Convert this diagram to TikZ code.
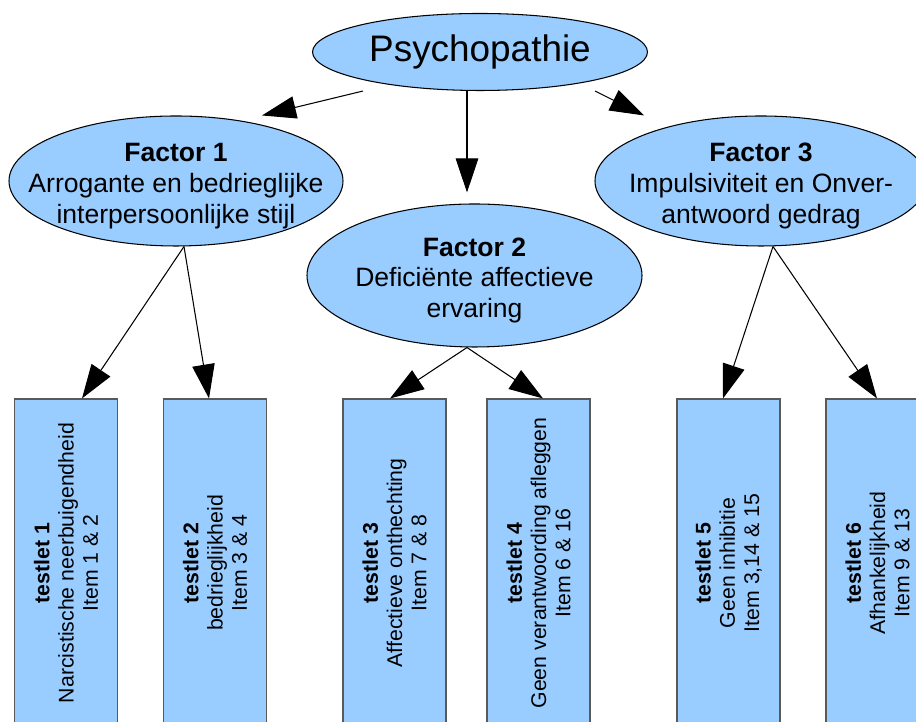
\documentclass[tikz,border=0pt]{standalone}
\usepackage{fontspec}
\setmainfont{Liberation Sans}
\usetikzlibrary{arrows.meta,shapes.geometric}
\definecolor{factorblue}{HTML}{99CCFF}
\newcommand{\factorName}[1]{\textbf{Factor #1}}
\newcommand{\testletName}[1]{\textbf{testlet #1}}
\tikzset{
   main node/.style={ellipse,fill=factorblue,draw=black,inner sep=0pt},
   factor node/.style={main node,minimum width=6.68cm,minimum height=2.6cm},
   factor text/.style={align=center,yshift=-0.1cm,font=\fontsize{15.1}{17.6}\selectfont},
   testlet node/.style={rectangle,fill=factorblue,draw=black!65,inner sep=0pt,
                        minimum width=2.06cm,minimum height=6.56cm},
   testlet text/.style={align=center,rotate=90,font=\fontsize{12.1}{13.8}\selectfont}
}

\begin{document}
\begin{tikzpicture}[->,>={Triangle[length=0.68cm,width=0.45cm]},line width=0.6pt]
\useasboundingbox (0,0) rectangle (18.32,14.44);

% top
\node[main node, minimum width=6.7cm, minimum height=1.54cm, font=\fontsize{21}{25}\selectfont] (psy) at (9.6,13.4) {Psychopathie};

% factors
\node[factor node, label={[factor text]center:{\factorName{1}\\Arrogante en bedrieglijke\\interpersoonlijke stijl}}] (f1) at (3.52,10.82) {};
\node[factor node, minimum width=6.7cm, minimum height=2.86cm, label={[factor text]center:{\factorName{2}\\Deficiënte affectieve\\ervaring}}] (f2) at (9.49,8.93) {};
\node[factor node, minimum width=6.64cm, label={[factor text]center:{\factorName{3}\\Impulsiviteit en Onver-\\antwoord gedrag}}] (f3) at (15.22,10.82) {};

% testlets
\node[testlet node, label={[testlet text]center:{\testletName{1}\\Narcistische neerbuigendheid\\Item 1 \& 2}}] (t1) at (1.32,3.18) {};
\node[testlet node, label={[testlet text]center:{\testletName{2}\\bedrieglijkheid\\Item 3 \& 4}}] (t2) at (4.30,3.18) {};
\node[testlet node, label={[testlet text]center:{\testletName{3}\\Affectieve onthechting\\Item 7 \& 8}}] (t3) at (7.89,3.18) {};
\node[testlet node, label={[testlet text]center:{\testletName{4}\\Geen verantwoording afleggen\\Item 6 \& 16}}] (t4) at (10.77,3.18) {};
\node[testlet node, label={[testlet text]center:{\testletName{5}\\Geen inhibitie\\Item 3,14 \& 15}}] (t5) at (14.57,3.18) {};
\node[testlet node, label={[testlet text]center:{\testletName{6}\\Afhankelijkheid\\Item 9 \& 13}}] (t6) at (17.55,3.18) {};

\path
  ([xshift=-2.34cm]psy.south) edge ([xshift=1.72cm]f1.north)
  ([xshift=-0.26cm]psy.south) edge ([xshift=-0.15cm,yshift=0.22cm]f2.north)
  ([xshift=2.3cm]psy.south) edge ([xshift=-2.34cm]f3.north)
  ([xshift=0.16cm]f1.south) edge ([xshift=0.32cm]t1.north)
  ([xshift=0.16cm]f1.south) edge ([xshift=-0.12cm]t2.north)
  ([xshift=-0.15cm]f2.south) edge ([xshift=-0.09cm]t3.north)
  ([xshift=-0.15cm]f2.south) edge ([xshift=0.09cm]t4.north)
  ([xshift=0.24cm]f3.south) edge ([xshift=-0.11cm]t5.north)
  ([xshift=0.24cm]f3.south) edge ([xshift=-0.01cm]t6.north)
;
\end{tikzpicture}
\end{document}
